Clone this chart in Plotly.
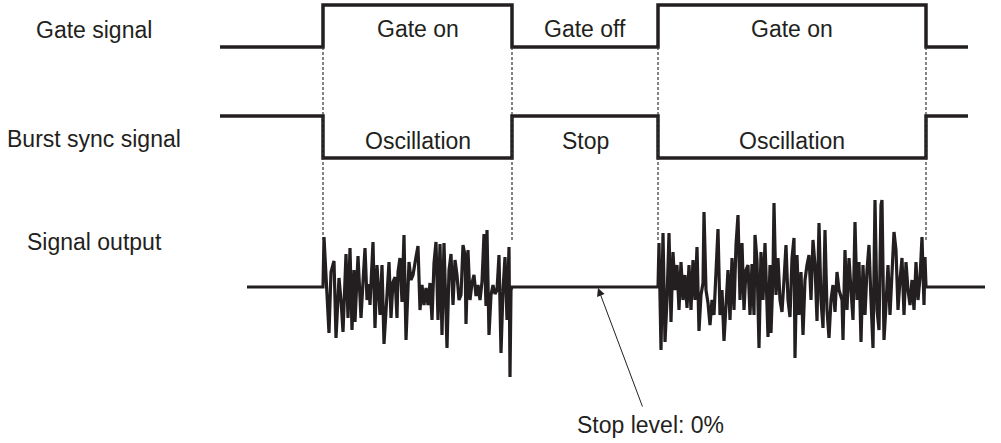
import plotly.graph_objects as go

# ---- timing data (time in px-like units along the diagram) ----
edges = [323, 512, 658, 926]          # gate transitions
t_start, t_end = 220, 968              # gate / sync extent
out_start, out_end = 247, 985          # signal output extent

gate_levels = [0, 1, 0, 1, 0]          # per segment
sync_levels = [1, 0, 1, 0, 1]

# burst 1 noise (time, amplitude relative to stop level)
b1_t = [323, 324, 329, 331, 334, 336, 339, 341, 343, 346,
        348, 350, 352, 354, 355, 358, 361, 363, 365, 367,
        369, 370, 373, 375, 377, 380, 382, 384, 387, 389,
        391, 393, 395, 397, 398, 400, 402, 404, 406, 409,
        411, 413, 416, 418, 420, 422, 424, 426, 428, 430,
        432, 434, 436, 438, 440, 442, 444, 447, 449, 451,
        453, 455, 457, 459, 461, 463, 465, 466, 468, 470,
        472, 474, 476, 478, 480, 482, 484, 486, 487, 489,
        491, 493, 495, 497, 499, 501, 503, 505, 507, 509,
        510, 511, 512]
b1_a = [0, 50, -46, 15, 26, -51, 9, -13, -45, 33,
        -31, 39, -43, 17, -35, 31, -31, 5, 39, -13,
        3, -18, 45, -41, 22, -28, 22, -57, -8, 25,
        -31, 5, 10, -31, 15, 29, -15, 52, -53, 25,
        7, 12, 30, 41, -23, 2, -18, -1, -18, 4,
        -33, 24, 45, -33, 43, -48, 44, -61, 17, 33,
        -18, 27, 12, -13, -8, 42, 32, -37, 37, -13,
        4, 12, -9, 2, -13, 5, 53, -19, 57, -48,
        -8, 2, -7, -3, 32, -66, -3, 30, -33, 40,
        -90, -3, 0]

# burst 2 noise
b2_t = [658, 659, 661, 663, 665, 667, 669, 671, 673, 675,
        677, 679, 681, 683, 685, 687, 689, 691, 693, 695,
        697, 699, 701, 703, 704, 706, 708, 710, 712, 714,
        716, 718, 720, 722, 724, 726, 728, 730, 732, 734,
        736, 738, 740, 742, 744, 746, 748, 750, 752, 754,
        755, 757, 759, 761, 763, 765, 768, 770, 771, 773,
        774, 776, 778, 780, 782, 784, 786, 788, 790, 792,
        794, 795, 797, 799, 801, 803, 805, 807, 809, 811,
        813, 815, 817, 819, 821, 823, 825, 827, 829, 831,
        833, 835, 837, 839, 842, 843, 845, 847, 849, 851,
        853, 855, 857, 859, 861, 863, 865, 867, 869, 871,
        873, 875, 877, 879, 881, 882, 884, 886, 888, 890,
        892, 894, 896, 898, 900, 902, 904, 906, 908, 910,
        912, 914, 916, 918, 920, 922, 924, 925, 926]
b2_a = [0, 44, -63, 54, -55, -13, 54, -35, 35, -3,
        22, -23, 25, -13, 12, -21, 22, -23, 27, -13,
        40, -44, -8, 4, 75, -3, -16, -38, -13, -28,
        17, 58, -28, -3, -54, -13, 17, -33, 29, -23,
        42, 72, -13, 44, -23, 17, 22, -28, 23, -28,
        52, 27, -61, 35, -13, 44, -50, 22, -46, 12,
        84, -8, 29, -13, -25, 7, 42, -13, -30, 29,
        49, -71, 32, -28, 15, -48, 7, 22, 32, -13,
        47, 22, -34, 64, -13, -41, 57, -23, -51, -13,
        2, -25, 15, -3, -13, -53, 37, -23, 29, -3,
        -33, 65, -13, 25, -55, 22, -28, 17, 42, -13,
        -61, 87, -23, -43, 82, 87, -53, -18, 22, -28,
        17, 55, 37, -23, 7, 29, -28, 25, -3, -18,
        7, -23, 25, -13, 9, 50, -18, 30, 0]

row_labels = ["Gate signal", "Burst sync signal", "Signal output"]
gate_texts = ["Gate on", "Gate off", "Gate on"]
sync_texts = ["Oscillation", "Stop", "Oscillation"]
stop_label = "Stop level: 0%"

# ---- layout constants ----
GATE_LOW, GATE_HIGH = 47, 5
SYNC_HIGH, SYNC_LOW = 116, 158
OUT_BASE = 287
INK = "#231f20"
FONT = "Liberation Sans, Arial, sans-serif"
FS = 23


def step_xy(levels, y0, y1):
    bounds = [t_start] + edges + [t_end]
    xs, ys = [], []
    for i, lv in enumerate(levels):
        y = y1 if lv else y0
        xs += [bounds[i], bounds[i + 1]]
        ys += [y, y]
    return xs, ys


fig = go.Figure()

gx, gy = step_xy(gate_levels, GATE_LOW, GATE_HIGH)
sx, sy = step_xy(sync_levels, SYNC_LOW, SYNC_HIGH)
for xs, ys in [(gx, gy), (sx, sy)]:
    fig.add_trace(go.Scatter(x=xs, y=ys, mode="lines",
                             line=dict(color=INK, width=3.5),
                             hoverinfo="skip", showlegend=False))

out_t = [out_start] + b1_t + b2_t + [out_end]
out_a = [0] + b1_a + b2_a + [0]
fig.add_trace(go.Scatter(x=out_t, y=[OUT_BASE - a for a in out_a], mode="lines",
                         line=dict(color=INK, width=3.2),
                         hoverinfo="skip", showlegend=False))

# dashed guide lines
for e in edges:
    fig.add_trace(go.Scatter(x=[e, e], y=[GATE_LOW, 240], mode="lines",
                             line=dict(color="#333", width=1.2, dash="3px,2px"),
                             hoverinfo="skip", showlegend=False))

# row labels
for lab, y in zip(row_labels, [30, 139, 242]):
    fig.add_annotation(x=94, y=y, text=lab, showarrow=False,
                       font=dict(family=FONT, size=FS, color=INK),
                       xanchor="center", yanchor="middle")

centers = [(323 + 512) / 2, (512 + 658) / 2, (658 + 926) / 2]
for c, gt, st in zip(centers, gate_texts, sync_texts):
    fig.add_annotation(x=c, y=29, text=gt, showarrow=False,
                       font=dict(family=FONT, size=FS, color=INK))
    fig.add_annotation(x=c, y=141, text=st, showarrow=False,
                       font=dict(family=FONT, size=FS, color=INK))

fig.add_annotation(x=598, y=OUT_BASE + 1, ax=643, ay=408, axref="x", ayref="y",
                   xref="x", yref="y", text="", showarrow=True,
                   arrowhead=2, arrowsize=1.6, arrowwidth=1, arrowcolor=INK)
fig.add_annotation(x=650, y=425, text=stop_label, showarrow=False,
                   font=dict(family=FONT, size=FS, color=INK))

fig.update_layout(width=1001, height=443, margin=dict(l=0, r=0, t=0, b=0),
                  paper_bgcolor="white", plot_bgcolor="white",
                  xaxis=dict(range=[0, 1001], visible=False, fixedrange=True),
                  yaxis=dict(range=[443, 0], visible=False, fixedrange=True))

fig.write_html("out.html",
               config={"displayModeBar": False, "staticPlot": True},
               post_script="document.body.style.margin='0';"
                           "document.body.style.overflow='hidden';")
